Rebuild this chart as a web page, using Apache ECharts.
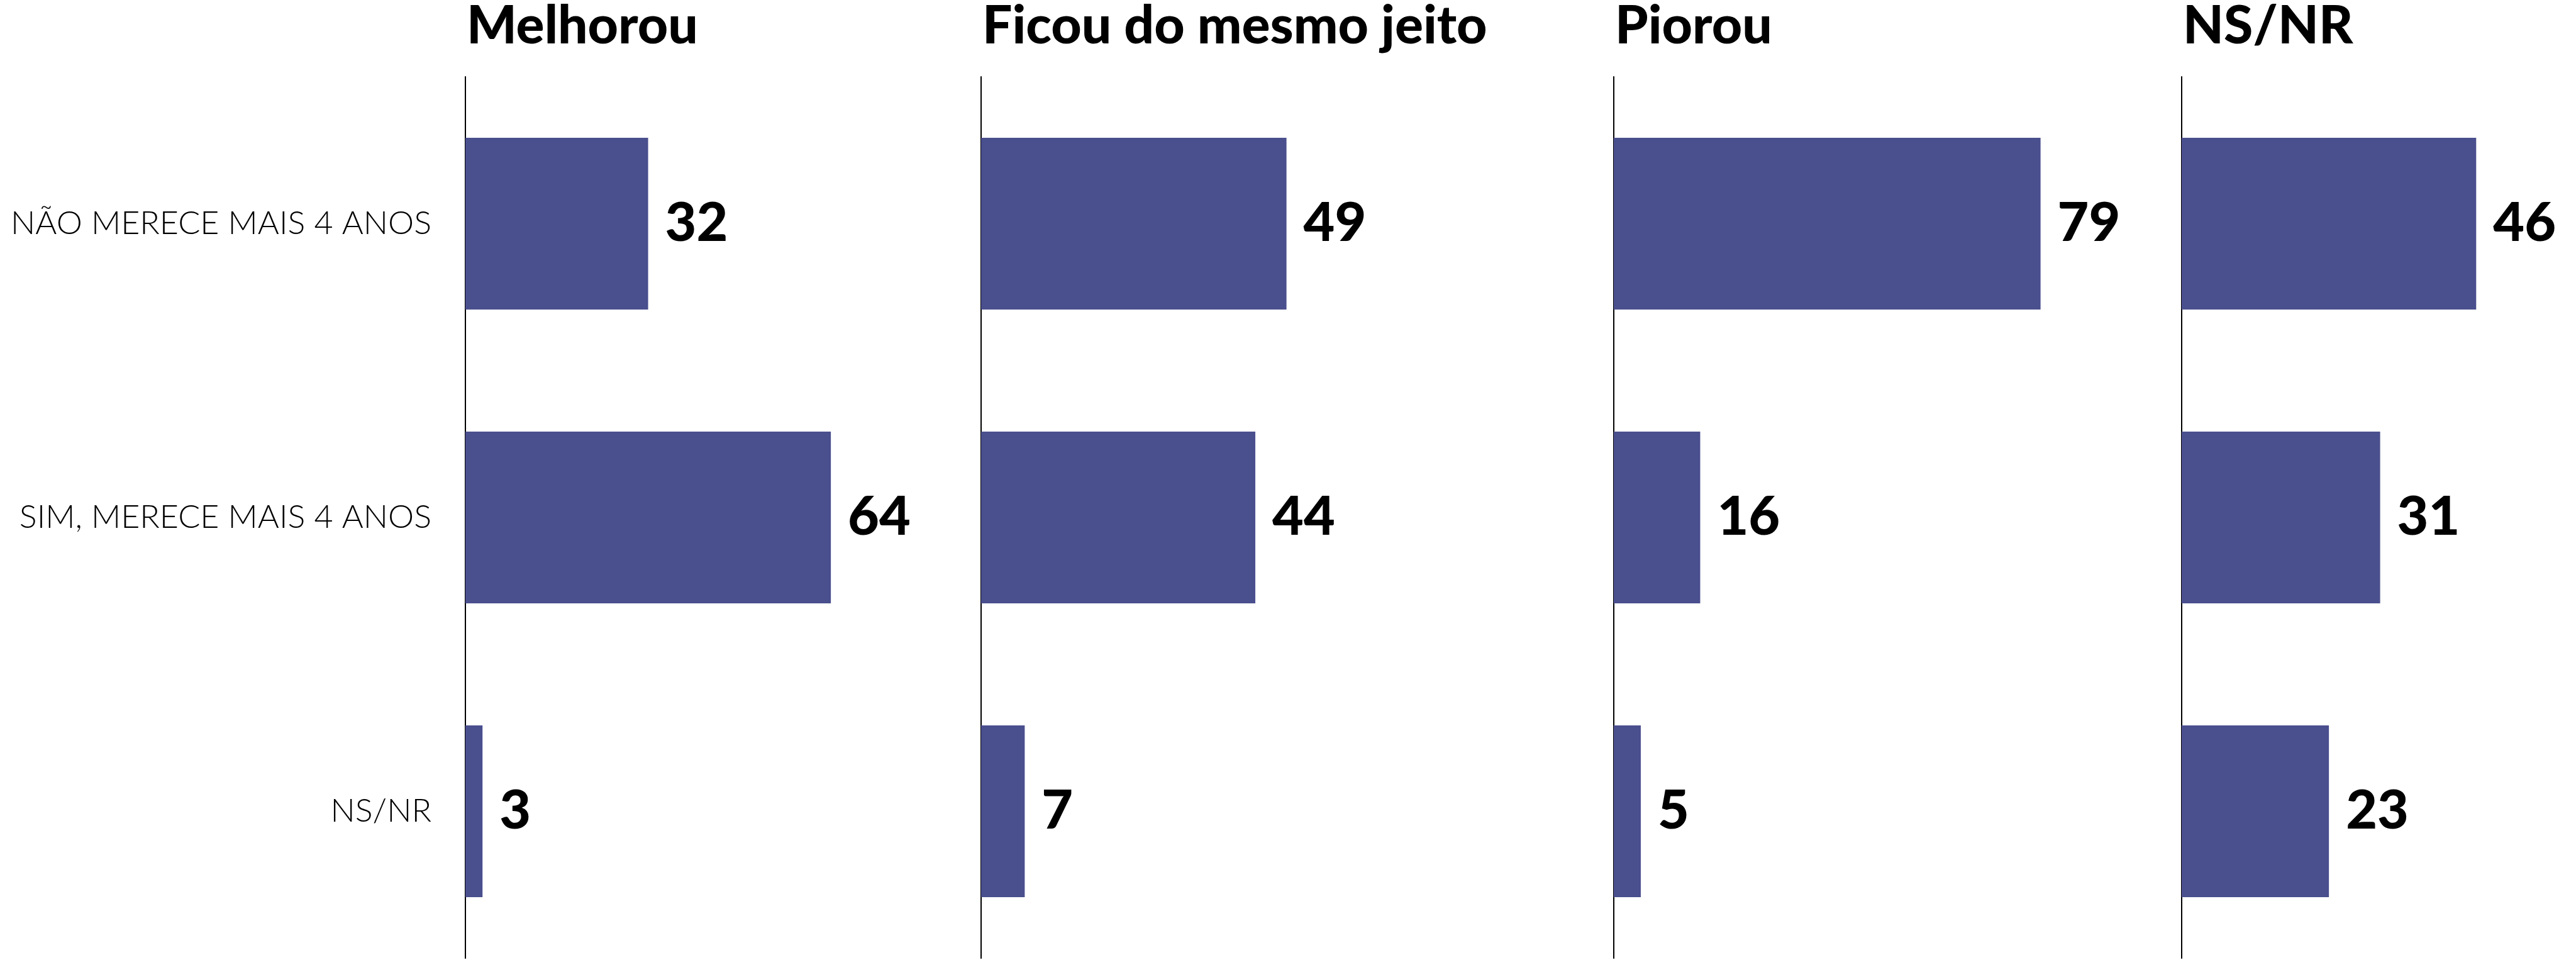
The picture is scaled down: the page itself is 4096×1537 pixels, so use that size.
<!DOCTYPE html>
<html>
<head>
<meta charset="utf-8">
<script src="https://cdn.jsdelivr.net/npm/echarts@6/dist/echarts.min.js"></script>
<style>
  html, body { margin: 0; padding: 0; background: #fff; }
  #chart { width: 4096px; height: 1537px; }
</style>
</head>
<body>
<div id="chart"></div>
<script>
// data
const categories = ['NÃO MERECE MAIS 4 ANOS', 'SIM, MERECE MAIS 4 ANOS', 'NS/NR'];
const panels = ['Melhorou', 'Ficou do mesmo jeito', 'Piorou', 'NS/NR'];
const melhorou = [32, 64, 3];
const mesmoJeito = [49, 44, 7];
const piorou = [79, 16, 5];
const nsnr = [46, 31, 23];
const panelValues = [melhorou, mesmoJeito, piorou, nsnr];

// layout (px in the 4096x1537 window)
const gridLeft = [740, 1560, 2566, 3469];
const axisMax = [100, 100, 100, 50];
const gridWidth = [908, 991, 859, 509];
const gridTop = 122;
const gridBottom = 14;
const barColor = '#4a4f8e';

const chartDom = document.getElementById('chart');
const myChart = echarts.init(chartDom);

const grids = [], xAxes = [], yAxes = [], series = [], titles = [];
panels.forEach((name, i) => {
  grids.push({
    left: gridLeft[i],
    width: gridWidth[i],
    top: gridTop,
    bottom: gridBottom,
    containLabel: false
  });
  xAxes.push({
    type: 'value',
    gridIndex: i,
    min: 0,
    max: axisMax[i],
    show: false
  });
  yAxes.push({
    type: 'category',
    gridIndex: i,
    data: categories,
    inverse: true,
    axisLine: { show: true, lineStyle: { color: '#000', width: 2 } },
    axisTick: { show: false },
    splitLine: { show: false },
    axisLabel: {
      show: i === 0,
      margin: 54,
      fontFamily: 'Lato',
      fontWeight: 300,
      fontSize: 52,
      color: '#000'
    }
  });
  series.push({
    name: name,
    type: 'bar',
    xAxisIndex: i,
    yAxisIndex: i,
    barWidth: 273,
    itemStyle: { color: barColor },
    label: {
      show: true,
      position: 'right',
      distance: 27,
      fontFamily: 'Lato',
      fontWeight: 900,
      fontSize: 86,
      color: '#000'
    },
    data: panelValues[i]
  });
  titles.push({
    text: name,
    left: gridLeft[i] + 2,
    top: 0,
    padding: 0,
    textStyle: {
      fontFamily: 'Lato',
      fontWeight: 900,
      fontSize: 84,
      color: '#000'
    }
  });
});

const option = {
  animation: false,
  backgroundColor: '#fff',
  title: titles,
  grid: grids,
  xAxis: xAxes,
  yAxis: yAxes,
  series: series
};

myChart.setOption(option);
</script>
</body>
</html>
